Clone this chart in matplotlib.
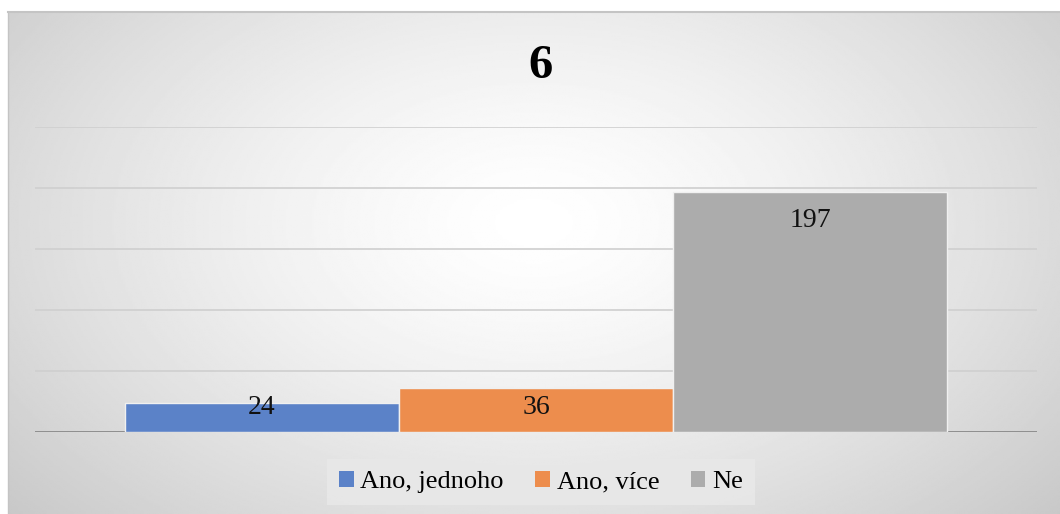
import numpy as np
import matplotlib
matplotlib.use("Agg")
import matplotlib.pyplot as plt
from matplotlib.patches import Patch

# ── Data ──────────────────────────────────────────────────────────────────────
title = "6"
series = ["Ano, jednoho", "Ano, více", "Ne"]
values = [24, 36, 197]
colors = ["#5b82c8", "#ed8d4d", "#acacac"]
y_ticks = [0, 50, 100, 150, 200, 250]

SERIF = ["Liberation Serif", "DejaVu Serif"]
W, H = 1060, 514

fig = plt.figure(figsize=(W / 100, H / 100), dpi=100)
fig.patch.set_facecolor("white")

# gradient background of chart area
bg = fig.add_axes([8 / W, 0, 1 - 8 / W, (H - 12) / H])
yy, xx = np.mgrid[0:1:300j, 0:1:600j]
r = np.sqrt(((xx - 0.5) / 0.72) ** 2 + ((yy - 0.42) / 0.95) ** 2)
shade = 1.0 - 0.24 * np.clip(r, 0, 1) ** 1.4
bg.imshow(shade, cmap="gray", vmin=0, vmax=1, aspect="auto",
          extent=[0, 1, 0, 1], origin="upper")
bg.set_xlim(0, 1)
bg.set_ylim(0, 1)
bg.axis("off")
bg.plot([0, 1], [1, 1], color="#c4c4c4", lw=1.5, clip_on=False)
bg.plot([0, 0], [0, 1], color="#c4c4c4", lw=1.0, clip_on=False)

# main plot
ax = fig.add_axes([35 / W, 82 / H, 1002 / W, 305 / H])
ax.patch.set_alpha(0)
bw = 274 / 1002
xs = [(i - 1) * bw for i in range(len(values))]
ax.bar(xs, values, width=bw, color=colors, edgecolor="#f0f0f0", linewidth=1.0, zorder=3)
for x, v in zip(xs, values):
    ax.text(x, max(v - 24, 20), str(v), ha="center", va="center",
            fontsize=20, family=SERIF, color="#111111", zorder=4)

ax.set_xlim(-0.5, 0.5)
ax.set_ylim(0, 250)
ax.set_yticks(y_ticks)
ax.grid(axis="y", color="#cfcfcf", lw=1.2, zorder=0)
ax.axhline(0, color="#8a8a8a", lw=1.3, zorder=2)
ax.tick_params(left=False, bottom=False, labelleft=False, labelbottom=False)
for s in ax.spines.values():
    s.set_visible(False)

fig.text(540 / W, 1 - 66 / H, title, ha="center", va="center",
         fontsize=35, fontweight="bold", family=SERIF)

handles = [Patch(facecolor=c, edgecolor="none") for c in colors]
leg = fig.legend(handles, series, loc="center", bbox_to_anchor=(541 / W, 1 - 482 / H),
                 ncol=3, frameon=True, fancybox=False, handlelength=0.55, handleheight=0.55,
                 handletextpad=0.25, columnspacing=1.2, borderpad=0.45,
                 prop={"family": SERIF, "size": 19})
leg.get_frame().set_facecolor("#e8e8e8")
leg.get_frame().set_edgecolor("none")
leg.get_frame().set_alpha(0.9)

fig.savefig("out.png", dpi=100)
